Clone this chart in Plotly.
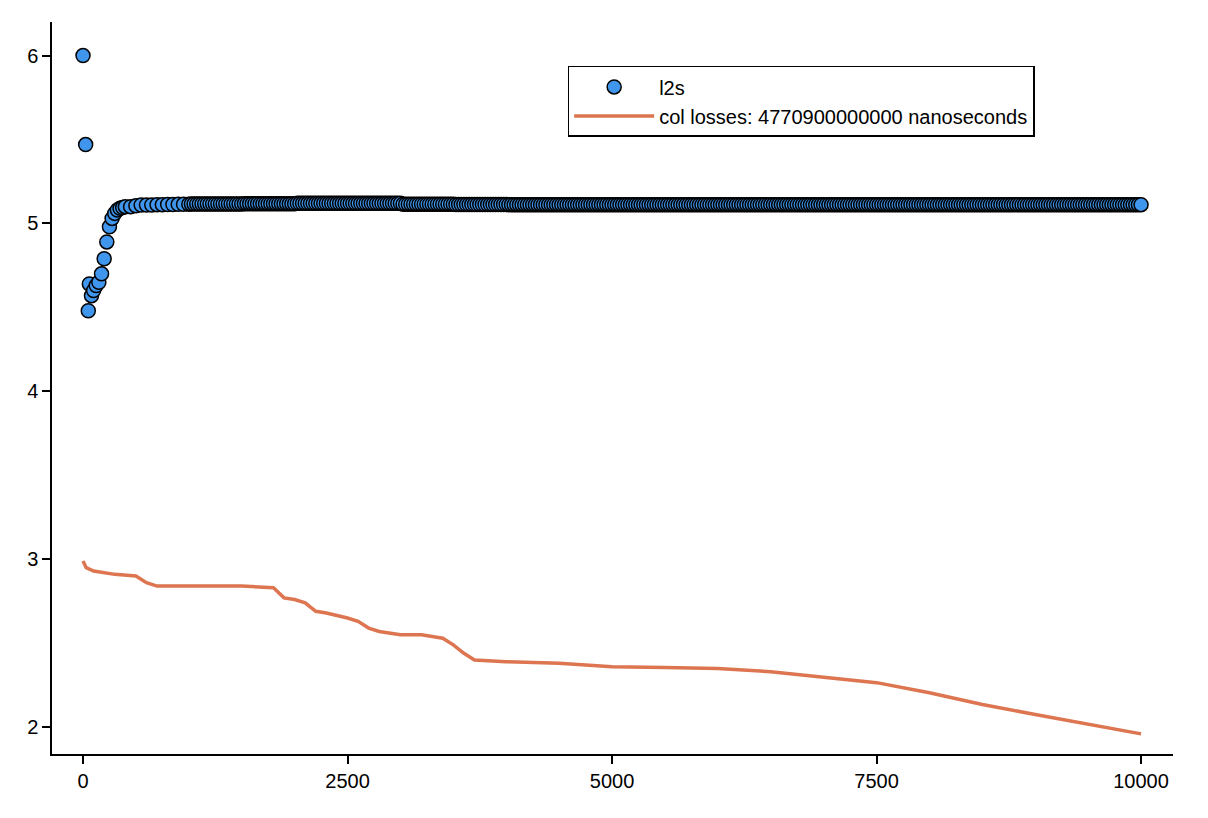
import plotly.graph_objects as go

# l2s scatter
l2s_x = [0, 25, 50, 60, 80, 100, 125, 150, 175, 200, 225, 250, 275, 300, 325, 350, 375, 400,
         450, 500, 550, 600, 650, 700, 750, 800, 850, 900, 950, 1000]
l2s_y = [6.00, 5.47, 4.48, 4.64, 4.57, 4.60, 4.63, 4.65, 4.70, 4.79, 4.89, 4.98, 5.03, 5.06, 5.08,
         5.09, 5.095, 5.10, 5.10, 5.105, 5.11, 5.11, 5.11, 5.112, 5.112, 5.113, 5.113, 5.114, 5.114, 5.115]
tail_x = list(range(1025, 10001, 25))
tail_y = ([5.116] * 20 + [5.118] * 20 + [5.12] * 20 + [5.12] * 20 + [5.115] * 20 + [5.113] * 20
          + [5.112] * (len(tail_x) - 120))
l2s_x += tail_x
l2s_y += tail_y

# col losses line
loss_x = [0, 30, 100, 300, 500, 600, 700, 900, 1200, 1500, 1800, 1850, 1900, 2000, 2100, 2200,
          2300, 2500, 2600, 2700, 2800, 3000, 3200, 3300, 3400, 3500, 3600, 3700, 3800, 4000,
          4500, 5000, 5500, 6000, 6500, 7000, 7500, 8000, 8500, 9000, 9500, 10000]
loss_y = [2.99, 2.95, 2.93, 2.91, 2.90, 2.86, 2.84, 2.84, 2.84, 2.84, 2.83, 2.80, 2.77, 2.76, 2.74,
          2.69, 2.68, 2.65, 2.63, 2.59, 2.57, 2.55, 2.55, 2.54, 2.53, 2.49, 2.44, 2.40, 2.395, 2.39,
          2.38, 2.36, 2.355, 2.35, 2.33, 2.30, 2.265, 2.205, 2.135, 2.075, 2.015, 1.96]

x_ticks = [0, 2500, 5000, 7500, 10000]
x_labels = ["0", "2500", "5000", "7500", "10000"]
y_ticks = [2, 3, 4, 5, 6]

fig = go.Figure()
fig.add_trace(go.Scatter(
    x=l2s_x, y=l2s_y, mode="markers", name="l2s",
    marker=dict(size=14, color="#3F96EC", line=dict(color="black", width=1.5)),
))
fig.add_trace(go.Scatter(
    x=loss_x, y=loss_y, mode="lines", name="col losses: 4770900000000 nanoseconds",
    line=dict(color="#DD7550", width=3.5),
))

axis = dict(showgrid=False, zeroline=False, showline=True, linecolor="black", linewidth=1.5,
            ticks="outside", ticklen=8, tickcolor="black", tickwidth=1.5, automargin=False,
            tickfont=dict(size=20, color="black"))
fig.update_xaxes(range=[-293, 10302], tickvals=x_ticks, ticktext=x_labels, **axis)
fig.update_yaxes(range=[1.84, 6.2], tickvals=y_ticks, **axis)
fig.update_layout(
    width=1208, height=818, plot_bgcolor="white", paper_bgcolor="white",
    margin=dict(l=44, r=43, t=14, b=72),
    font=dict(family="Liberation Sans, Arial", size=20, color="black"),
    showlegend=True,
    legend=dict(x=0.46, y=0.94, xanchor="left", yanchor="top", bordercolor="black",
                borderwidth=1.5, bgcolor="white", font=dict(size=20),
                itemsizing="trace", itemwidth=80, tracegroupgap=0),
)
fig.write_html("out.html")
